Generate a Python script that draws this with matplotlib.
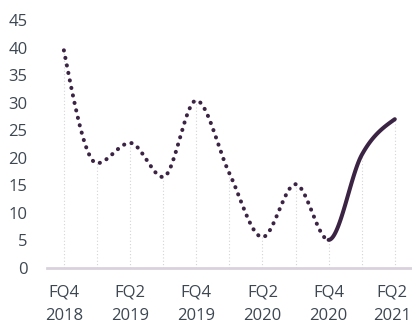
import numpy as np
import matplotlib
matplotlib.use("Agg")
import matplotlib.pyplot as plt
import matplotlib.transforms as mtransforms

# ------------------- Data: ---------------------------------------------------------
quarters = ["FQ4\n2018", "FQ1\n2019", "FQ2\n2019", "FQ3\n2019", "FQ4\n2019", "FQ1\n2020",
            "FQ2\n2020", "FQ3\n2020", "FQ4\n2020", "FQ1\n2021", "FQ2\n2021"]
values = [39.5, 19.0, 22.7, 16.5, 30.4, 17.2, 5.6, 15.2, 5.1, 20.5, 27.0]
label_every = 2          # only every other quarter is labelled
split_at = 8             # dotted up to FQ4 2020, solid after

LINE_COLOR = "#3b2343"
TEXT_COLOR = "#3d4752"


def monotone_curve(y, steps=40):
    # monotone cubic (d3 monotoneX style) through evenly spaced points
    y = np.asarray(y, dtype=float)
    n = len(y)
    s = np.diff(y)
    t = np.zeros(n)
    for i in range(1, n - 1):
        p = (s[i - 1] + s[i]) / 2
        t[i] = (np.sign(s[i - 1]) + np.sign(s[i])) * min(abs(s[i - 1]), abs(s[i]), 0.5 * abs(p))
    t[0] = (3 * s[0] - t[1]) / 2
    t[-1] = (3 * s[-1] - t[-2]) / 2
    xs, ys = [], []
    u = np.linspace(0, 1, steps)
    for i in range(n - 1):
        h00 = 2 * u**3 - 3 * u**2 + 1
        h10 = u**3 - 2 * u**2 + u
        h01 = -2 * u**3 + 3 * u**2
        h11 = u**3 - u**2
        xs.append(i + u)
        ys.append(h00 * y[i] + h10 * t[i] + h01 * y[i + 1] + h11 * t[i + 1])
    return np.concatenate(xs), np.concatenate(ys)


plt.rcParams['font.family'] = ['Open Sans', 'DejaVu Sans']

fig = plt.figure(figsize=(4.12, 3.25), dpi=100)
ax = fig.add_axes([47 / 412, 57 / 325, 1 - 47 / 412, 248 / 325])

x = np.arange(len(values))
cx, cy = monotone_curve(values)

# drop lines from each point to the axis
ax.vlines(x, 0, values, colors="#d4d4d8", linestyles=(0, (1, 2)), linewidth=0.8, zorder=1)

dotted = cx <= split_at
solid = cx >= split_at
ax.plot(cx[dotted], cy[dotted], color=LINE_COLOR, linewidth=2.9,
        linestyle=(0, (0.05, 1.85)), dash_capstyle='round', zorder=3)
ax.plot(cx[solid], cy[solid], color=LINE_COLOR, linewidth=2.9,
        solid_capstyle='round', zorder=3)

ax.set_xlim(-0.51, 10.52)
ax.set_ylim(0, 45)
ax.set_yticks(range(0, 46, 5))
ax.set_xticks(x[::label_every])
ax.set_xticklabels(quarters[::label_every], linespacing=1.6)
ax.tick_params(axis='both', length=0, labelsize=12, colors=TEXT_COLOR)
ax.tick_params(axis='x', pad=12)
ax.tick_params(axis='y', pad=14)
for lbl in ax.get_yticklabels():
    lbl.set_horizontalalignment('right')

# keep the last label inside the canvas
last = ax.get_xticklabels()[-1]
last.set_transform(last.get_transform() + mtransforms.ScaledTranslation(-3 / 100, 0, fig.dpi_scale_trans))

for side in ['top', 'right', 'left']:
    ax.spines[side].set_visible(False)
ax.spines['bottom'].set_color("#d9d2dd")
ax.spines['bottom'].set_linewidth(2)

fig.savefig("out.png", dpi=100)
